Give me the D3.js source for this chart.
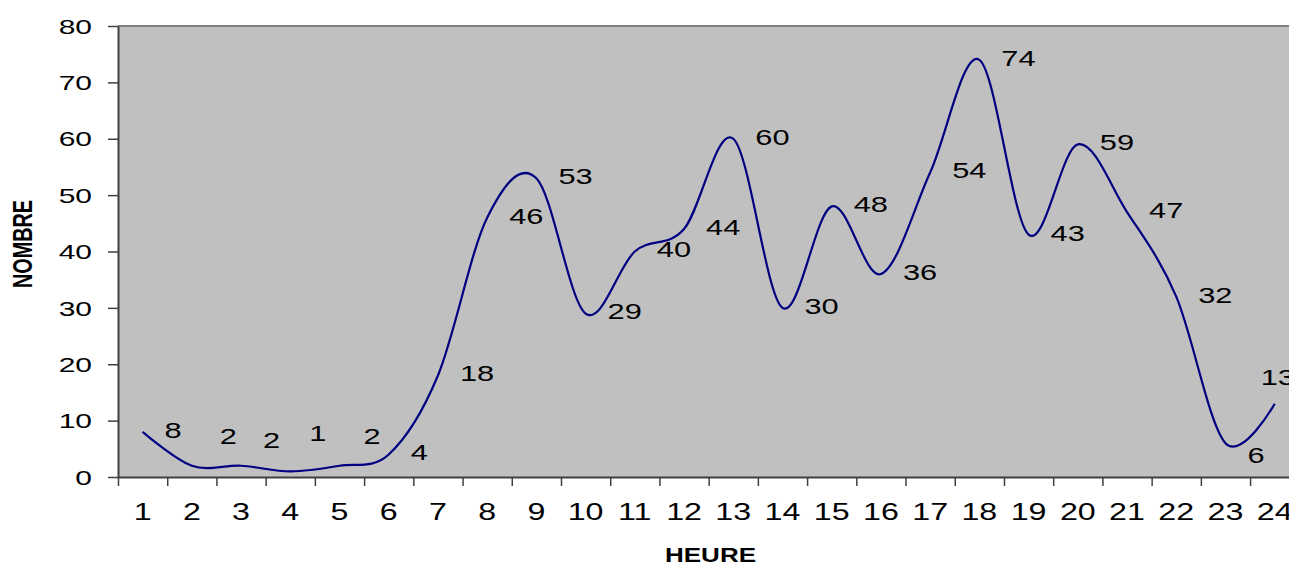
<!DOCTYPE html>
<html>
<head>
<meta charset="utf-8">
<script src="https://cdn.jsdelivr.net/npm/d3@7"></script>
<style>
  body { margin: 0; background: #fff; }
  svg { display: block; }
  text { font-family: "Liberation Sans", Arial, sans-serif; fill: #000; }
</style>
</head>
<body>
<svg id="chart"></svg>
<script>
// données : nombre par heure
var hours = ['1','2','3','4','5','6','7','8','9','10','11','12','13','14','15','16','17','18','19','20','21','22','23','24']
var counts = [8, 2, 2, 1, 2, 4, 18, 46, 53, 29, 40, 44, 60, 30, 48, 36, 54, 74, 43, 59, 47, 32, 6, 13]
var yTicks = [0, 10, 20, 30, 40, 50, 60, 70, 80]
var xTitle = 'HEURE'
var yTitle = 'NOMBRE'

// décalages manuels des étiquettes (px), comme dans l'original
var labelNudge = { '2': [6, -28], '3': [0, -24], '4': [-3, -36], '5': [2, -28], '23': [0, 14], '24': [-36, -25] }

var width = 1289
var height = 565
// attention : "top" est réservé par window
var plotLeft = 118, plotTop = 26, plotBottom = 477, plotRight = 1299.3

var svg = d3.select('#chart').attr('width', width).attr('height', height)

var x = d3.scaleBand().domain(hours).range([plotLeft, plotRight])
var edge = d3.scaleLinear().domain([0, hours.length]).range([plotLeft, plotRight])
var y = d3.scaleLinear().domain([0, 80]).range([plotBottom, plotTop])
var cx = function (h) { return x(h) + x.bandwidth() / 2 }

// zone de traçage
svg.append('rect')
  .attr('x', plotLeft).attr('y', plotTop)
  .attr('width', plotRight - plotLeft).attr('height', plotBottom - plotTop)
  .attr('fill', '#c0c0c0')
svg.append('line')
  .attr('x1', plotLeft).attr('x2', plotRight).attr('y1', plotTop).attr('y2', plotTop)
  .attr('stroke', '#808080').attr('stroke-width', 2)
svg.append('line')
  .attr('x1', plotRight).attr('x2', plotRight).attr('y1', plotTop).attr('y2', plotBottom)
  .attr('stroke', '#808080').attr('stroke-width', 2)

// axe Y
var yAxis = svg.append('g').attr('transform', 'translate(' + plotLeft + ',0)')
  .call(d3.axisLeft(y).tickValues(yTicks).tickSize(10).tickSizeOuter(0))
yAxis.select('.domain').attr('stroke', '#404040').attr('stroke-width', 2)
yAxis.selectAll('.tick line').attr('stroke', '#404040').attr('stroke-width', 1.5)
yAxis.selectAll('.tick text')
  .attr('x', null).attr('dy', '0.36em')
  .attr('font-size', 20).attr('text-anchor', 'end')
  .attr('transform', 'translate(-26,0) scale(1.5,1)')

// axe X : graduations entre les heures
var xTickAxis = svg.append('g').attr('transform', 'translate(0,' + plotBottom + ')')
  .call(d3.axisBottom(edge).ticks(hours.length).tickSize(9).tickSizeOuter(0).tickFormat(''))
xTickAxis.select('.domain').attr('stroke', '#404040').attr('stroke-width', 2)
xTickAxis.selectAll('.tick line').attr('stroke', '#404040').attr('stroke-width', 1.5)

// axe X : libellés centrés
var xLabelAxis = svg.append('g').attr('transform', 'translate(0,' + plotBottom + ')')
  .call(d3.axisBottom(x).tickSize(0))
xLabelAxis.select('.domain').remove()
xLabelAxis.selectAll('.tick text')
  .attr('y', null).attr('dy', null)
  .attr('font-size', 23).attr('text-anchor', 'middle')
  .attr('transform', 'translate(0,43) scale(1.4,1)')

// courbe lissée
var pts = hours.map(function (h, i) { return { hour: h, count: counts[i] } })
var line = d3.line()
  .x(function (d) { return cx(d.hour) })
  .y(function (d) { return y(d.count) })
  .curve(d3.curveCardinal.tension(0))
svg.append('path').datum(pts)
  .attr('d', line)
  .attr('fill', 'none')
  .attr('stroke', '#000080')
  .attr('stroke-width', 2.2)

// étiquettes de données
svg.append('g').selectAll('text').data(pts).enter().append('text')
  .attr('font-size', 22)
  .attr('dy', '0.36em')
  .attr('transform', function (d) {
    var n = labelNudge[d.hour] || [0, 0]
    return 'translate(' + (cx(d.hour) + 22 + n[0]) + ',' + (y(d.count) - 2 + n[1]) + ') scale(1.4,1)'
  })
  .text(function (d) { return d.count })

// titres des axes
svg.append('text')
  .attr('x', 710.5).attr('y', 562)
  .attr('text-anchor', 'middle')
  .attr('font-weight', 'bold').attr('font-size', 20.5)
  .attr('textLength', 91).attr('lengthAdjust', 'spacingAndGlyphs')
  .text(xTitle)
svg.append('text')
  .attr('transform', 'translate(32,244) rotate(-90)')
  .attr('text-anchor', 'middle')
  .attr('font-weight', 'bold').attr('font-size', 28)
  .attr('textLength', 88).attr('lengthAdjust', 'spacingAndGlyphs')
  .text(yTitle)
</script>
</body>
</html>
